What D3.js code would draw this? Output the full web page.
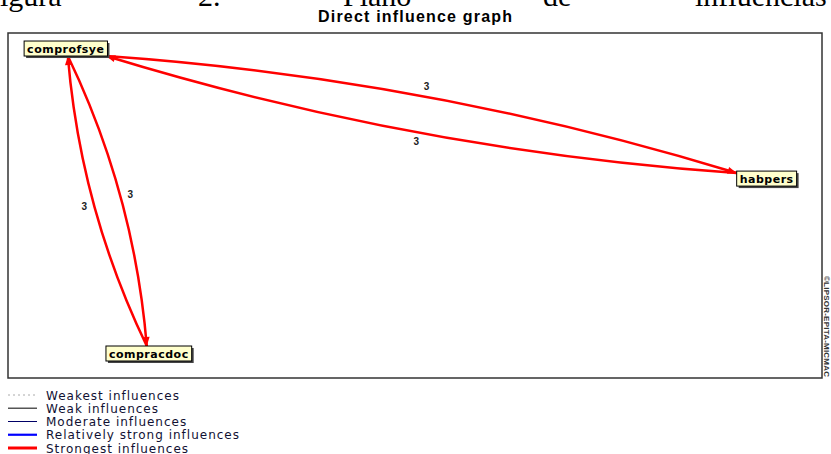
<!DOCTYPE html>
<html>
<head>
<meta charset="utf-8">
<script src="https://cdn.jsdelivr.net/npm/d3@7"></script>
<style>
  body { margin: 0; background: #fff; }
  svg { display: block; }
</style>
</head>
<body>
<div id="chart"></div>
<script>
// data
var nodeNames = ["comprofsye", "habpers", "compracdoc"];
var nodeX = [7.1, 93.2, 17.3];   // position in the plan, 0..100
var nodeY = [4.5, 42.2, 92.9];
var edgeFrom = ["comprofsye", "habpers", "comprofsye", "compracdoc"];
var edgeTo = ["habpers", "comprofsye", "compracdoc", "comprofsye"];
var edgeValue = [3, 3, 3, 3];
var legendLabels = ["Weakest influences", "Weak influences", "Moderate influences",
                    "Relatively strong influences", "Strongest influences"];

var W = 831, H = 454;
var frame = {left: 8, top: 33, right: 822, bottom: 378};

var svg = d3.select("#chart").append("svg")
    .attr("width", W)
    .attr("height", H);

// caption of the document page, cut off at top
var capWords = [["igura", 0], ["2.", 198], ["Plano", 343], ["de", 543], ["influencias", 695]];
svg.selectAll(".cap")
    .data(capWords)
    .join("text")
    .attr("class", "cap")
    .attr("x", d => d[1])
    .attr("y", 6)
    .attr("font-family", "Liberation Serif, serif")
    .attr("font-size", "30px")
    .attr("fill", "#000")
    .text(d => d[0]);

svg.append("text")
    .attr("x", 318)
    .attr("y", 22)
    .attr("font-family", "Liberation Sans, Arial, sans-serif")
    .attr("font-weight", "bold")
    .attr("font-size", "16px")
    .attr("textLength", 194)
    .attr("lengthAdjust", "spacing")
    .text("Direct influence graph");

svg.append("rect")
    .attr("x", frame.left)
    .attr("y", frame.top)
    .attr("width", frame.right - frame.left)
    .attr("height", frame.bottom - frame.top)
    .attr("fill", "#fff")
    .attr("stroke", "#333")
    .attr("stroke-width", 1.5);

// copyright, vertical
svg.append("text")
    .attr("transform", "translate(824,276) rotate(90)")
    .attr("font-family", "Liberation Sans, sans-serif")
    .attr("font-weight", "bold")
    .attr("font-size", "8px")
    .attr("textLength", 101)
    .attr("fill", "#333")
    .text("©LIPSOR-EPITA-MICMAC");

var x = d3.scaleLinear().domain([0, 100]).range([frame.left, frame.right]);
var y = d3.scaleLinear().domain([0, 100]).range([frame.top, frame.bottom]);

var defs = svg.append("defs");
defs.append("marker")
    .attr("id", "arrowRed")
    .attr("viewBox", "0 -5 10 10")
    .attr("refX", 10)
    .attr("refY", 0)
    .attr("markerUnits", "userSpaceOnUse")
    .attr("markerWidth", 11)
    .attr("markerHeight", 9)
    .attr("orient", "auto")
  .append("path")
    .attr("d", "M0,-4L10,0L0,4Z")
    .attr("fill", "#ff0000");

var nodes = nodeNames.map(function(n, i) {
  return {name: n, cx: x(nodeX[i]), cy: y(nodeY[i])};
});
var byName = {};
nodes.forEach(function(n) { byName[n.name] = n; });

// measure label boxes first
var nodeG = svg.append("g").attr("class", "nodes");
var labels = nodeG.selectAll("g")
    .data(nodes)
    .join("g");

labels.append("rect").attr("class", "shadow");
labels.append("rect").attr("class", "box");
labels.append("text")
    .attr("font-family", "DejaVu Sans, sans-serif")
    .attr("font-weight", "bold")
    .attr("font-size", "11px")
    .attr("letter-spacing", "0.5px")
    .attr("text-anchor", "middle")
    .attr("x", d => d.cx)
    .attr("y", d => d.cy + 4)
    .text(d => d.name);

labels.each(function(d) {
  var tw = d3.select(this).select("text").node().getComputedTextLength();
  d.w = tw + 6;
  d.h = 15;
});

labels.select(".shadow")
    .attr("x", d => d.cx - d.w / 2 + 2)
    .attr("y", d => d.cy - d.h / 2 + 2)
    .attr("width", d => d.w)
    .attr("height", d => d.h)
    .attr("fill", "#444");
labels.select(".box")
    .attr("x", d => d.cx - d.w / 2)
    .attr("y", d => d.cy - d.h / 2)
    .attr("width", d => d.w)
    .attr("height", d => d.h)
    .attr("fill", "#ffffcc")
    .attr("stroke", "#000")
    .attr("stroke-width", 1);

// where the line between the centres leaves a box
function clip(n, tx, ty) {
  var dx = tx - n.cx, dy = ty - n.cy;
  var sx = dx === 0 ? Infinity : (n.w / 2) / Math.abs(dx);
  var sy = dy === 0 ? Infinity : (n.h / 2) / Math.abs(dy);
  var s = Math.min(sx, sy);
  return [n.cx + dx * s, n.cy + dy * s];
}

var edges = edgeFrom.map(function(f, i) {
  var a = byName[f], b = byName[edgeTo[i]];
  var p0 = clip(a, b.cx, b.cy), p1 = clip(b, a.cx, a.cy);
  var dx = p1[0] - p0[0], dy = p1[1] - p0[1];
  var len = Math.sqrt(dx * dx + dy * dy);
  var h = 10 + 0.013 * len;           // bulge at the middle
  var nx = dy / len, ny = -dx / len;  // left-hand normal
  var mx = (p0[0] + p1[0]) / 2, my = (p0[1] + p1[1]) / 2;
  return {
    p0: p0, p1: p1,
    c: [mx + nx * 2 * h, my + ny * 2 * h],
    lab: [mx + nx * (h + 10), my + ny * (h + 10)],
    value: edgeValue[i]
  };
});

var edgeG = svg.insert("g", ".nodes").attr("class", "edges");
edgeG.selectAll("path")
    .data(edges)
    .join("path")
    .attr("d", function(d) {
      var p = d3.path();
      p.moveTo(d.p0[0], d.p0[1]);
      p.quadraticCurveTo(d.c[0], d.c[1], d.p1[0], d.p1[1]);
      return p.toString();
    })
    .attr("fill", "none")
    .attr("stroke", "#ff0000")
    .attr("stroke-width", 2.5)
    .attr("marker-end", "url(#arrowRed)");

edgeG.selectAll("text")
    .data(edges)
    .join("text")
    .attr("x", d => d.lab[0])
    .attr("y", d => d.lab[1] + 3)
    .attr("text-anchor", "middle")
    .attr("font-family", "Liberation Sans, Arial, sans-serif")
    .attr("font-weight", "bold")
    .attr("font-size", "10px")
    .attr("fill", "#222")
    .text(d => d.value);

// legend
var legendStyles = [
  {stroke: "#aaa", width: 1, dash: "2,3"},
  {stroke: "#555", width: 1.5, dash: null},
  {stroke: "#000066", width: 1, dash: null},
  {stroke: "#0000ff", width: 2.2, dash: null},
  {stroke: "#ff0000", width: 3, dash: null}
];
var ly = d3.scalePoint().domain(legendLabels).range([395, 448]);

var legend = svg.append("g").attr("class", "legend")
    .selectAll("g")
    .data(legendLabels)
    .join("g")
    .attr("transform", d => "translate(0," + ly(d) + ")");

legend.append("line")
    .attr("x1", 8).attr("x2", 37)
    .attr("stroke", (d, i) => legendStyles[i].stroke)
    .attr("stroke-width", (d, i) => legendStyles[i].width)
    .attr("stroke-dasharray", (d, i) => legendStyles[i].dash);

legend.append("text")
    .attr("x", 46)
    .attr("y", 4.5)
    .attr("font-family", "DejaVu Sans, sans-serif")
    .attr("font-size", "12px")
    .attr("letter-spacing", "1px")
    .attr("fill", "#111133")
    .text(d => d);
</script>
</body>
</html>
